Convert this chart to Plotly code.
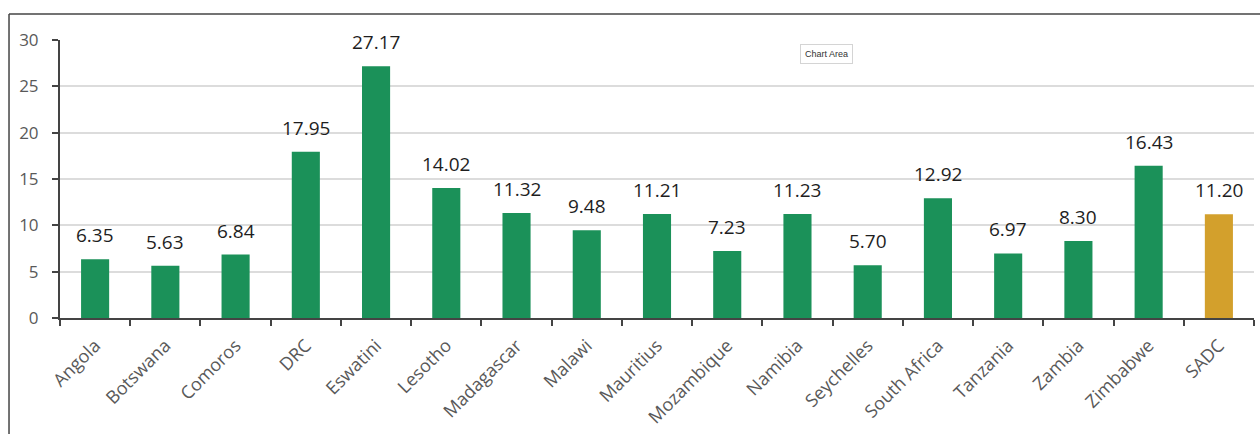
import plotly.graph_objects as go

countries = ["Angola", "Botswana", "Comoros", "DRC", "Eswatini", "Lesotho",
             "Madagascar", "Malawi", "Mauritius", "Mozambique", "Namibia",
             "Seychelles", "South Africa", "Tanzania", "Zambia", "Zimbabwe", "SADC"]
values = [6.35, 5.63, 6.84, 17.95, 27.17, 14.02, 11.32, 9.48, 11.21, 7.23,
          11.23, 5.70, 12.92, 6.97, 8.30, 16.43, 11.20]
y_ticks = [0, 5, 10, 15, 20, 25, 30]

GREEN = "#1b9159"
GOLD = "#d3a02c"
colors = [GOLD if c == "SADC" else GREEN for c in countries]

fig = go.Figure()
fig.add_trace(go.Bar(
    x=countries, y=values, marker=dict(color=colors, line=dict(width=0)),
    width=0.4, hoverinfo="x+y",
))

# value labels above each bar
for c, v in zip(countries, values):
    fig.add_annotation(x=c, y=v, text=f"{v:.2f}", showarrow=False,
                       yanchor="bottom", yshift=9,
                       font=dict(family="Open Sans", size=19, color="#1e1e1e"))

# "Chart Area" hover badge
fig.add_annotation(xref="paper", yref="paper", x=0.642, y=0.986, text="Chart Area",
                   showarrow=False, font=dict(family="Liberation Sans", size=9, color="#333333"),
                   bgcolor="white", bordercolor="#d4d4d4", borderwidth=1, borderpad=4)

# outer frame (top and left edges)
fig.add_shape(type="line", xref="paper", yref="paper", x0=-0.0427, x1=1.01,
              y0=1.0935, y1=1.0935, line=dict(color="#444444", width=1.5))
fig.add_shape(type="line", xref="paper", yref="paper", x0=-0.0427, x1=-0.0427,
              y0=1.0935, y1=-0.45, line=dict(color="#444444", width=1.5))

fig.update_layout(
    width=1260, height=434,
    margin=dict(l=60, r=6, t=40, b=116),
    paper_bgcolor="white", plot_bgcolor="white",
    showlegend=False,
    bargap=0.6,
    font=dict(family="Open Sans", color="#595959"),
)
fig.update_xaxes(
    type="category", tickson="boundaries", ticks="outside", ticklen=6,
    tickcolor="#444444", tickwidth=2, showline=True, linecolor="#444444", linewidth=2,
    tickangle=-45, tickfont=dict(size=18, color="#595959"), showgrid=False,
    ticklabelstandoff=8,
)
fig.update_yaxes(
    range=[0, 30], tickvals=y_ticks, ticks="outside", ticklen=6,
    tickcolor="#444444", tickwidth=2, showline=True, linecolor="#444444", linewidth=2,
    showgrid=True, gridcolor="#dcdcdc", gridwidth=1.5, zeroline=False,
    tickfont=dict(size=17, color="#595959"), ticklabelstandoff=10,
)

fig.write_html("out.html")
